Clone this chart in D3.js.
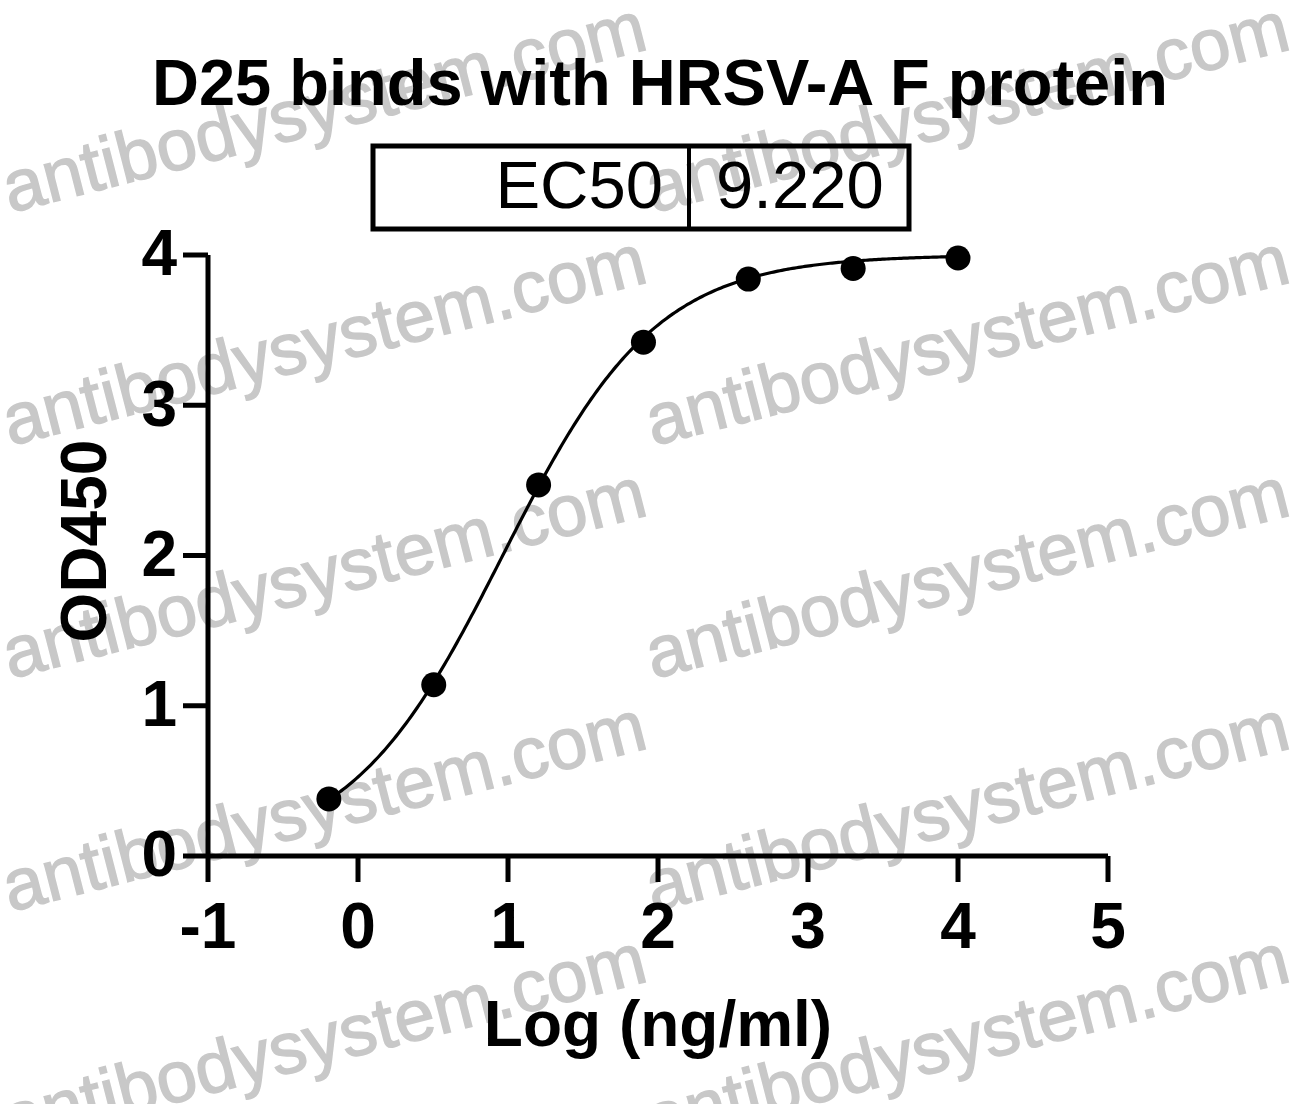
<!DOCTYPE html>
<html><head><meta charset="utf-8">
<script src="https://cdn.jsdelivr.net/npm/d3@7"></script>
<style>body{margin:0;background:#fff}svg{display:block}</style>
</head><body><svg id="c" width="1301" height="1104"></svg>
<script>
// ---- data ----
const logConc = [-0.194, 0.505, 1.204, 1.903, 2.602, 3.301, 4.0];
const od450   = [0.38, 1.14, 2.47, 3.42, 3.84, 3.91, 3.98];
const xTicks = [-1, 0, 1, 2, 3, 4, 5];
const yTicks = [0, 1, 2, 3, 4];
// four-parameter logistic fit shown as the curve
const fitBottom = 0.0, fitTop = 4.0, fitEC50 = 9.220, fitHill = 0.85;
const tableLabels = ["EC50"];
const tableValues = ["9.220"];
const titleText = "D25 binds with HRSV-A F protein";
const xLabelText = "Log (ng/ml)";
const yLabelText = "OD450";
const watermarkText = "antibodysystem.com";
const watermarkCols = [10, 653];
const watermarkRows = [213, 446, 679, 912, 1145];

// ---- drawing ----
const FONT = "'Liberation Sans', Arial, Helvetica, sans-serif";
const svg = d3.select("#c");
svg.append("rect").attr("width", 1301).attr("height", 1104).attr("fill", "#fff");

// watermark layer (behind)
const wm = svg.append("g");
watermarkRows.forEach(yy => watermarkCols.forEach(xx => {
  wm.append("text").attr("transform", `translate(${xx},${yy}) rotate(-14.4)`)
    .attr("font-family", FONT).attr("font-size", 72.5).attr("fill", "#c8c8c8")
    .attr("stroke", "#c8c8c8").attr("stroke-width", 1.4)
    .text(watermarkText);
}));

const x = d3.scaleLinear().domain([-1, 5]).range([208, 1108]);
const y = d3.scaleLinear().domain([0, 4]).range([856, 255]);

const fmt = d => String(d);
const xAxis = d3.axisBottom(x).tickValues(xTicks).tickFormat(fmt)
  .tickSize(26).tickSizeOuter(0).tickPadding(21).offset(0);
const yAxis = d3.axisLeft(y).tickValues(yTicks).tickFormat(fmt)
  .tickSize(25).tickSizeOuter(0).tickPadding(6).offset(0);

function styleAxis(g) {
  g.select(".domain").attr("stroke", "#000").attr("stroke-width", 5);
  g.selectAll(".tick line").attr("stroke", "#000").attr("stroke-width", 5);
  g.selectAll(".tick text").attr("fill", "#000").attr("font-family", FONT)
    .attr("font-size", 64).attr("font-weight", "bold");
}
svg.append("g").attr("transform", "translate(0,856)").call(xAxis).call(styleAxis);
svg.append("g").attr("transform", "translate(208,0)").call(yAxis).call(styleAxis);

// fitted curve
const f = v => fitBottom + (fitTop - fitBottom) / (1 + Math.pow(10, (Math.log10(fitEC50) - v) * fitHill));
const x0 = d3.min(logConc), x1 = d3.max(logConc);
const curvePts = d3.range(0, 301).map(i => { const v = x0 + (x1 - x0) * i / 300; return [v, f(v)]; });
svg.append("path").datum(curvePts)
  .attr("d", d3.line().x(d => x(d[0])).y(d => y(d[1])))
  .attr("fill", "none").attr("stroke", "#000").attr("stroke-width", 3.2);

// points
svg.append("g").selectAll("circle").data(logConc.map((v, i) => [v, od450[i]]))
  .join("circle").attr("cx", d => x(d[0])).attr("cy", d => y(d[1])).attr("r", 12.5).attr("fill", "#000");

// title
svg.append("text").attr("x", 660).attr("y", 105).attr("text-anchor", "middle")
  .attr("font-family", FONT).attr("font-size", 65).attr("font-weight", "bold").text(titleText);

// EC50 table
const tb = svg.append("g");
tb.append("rect").attr("x", 373).attr("y", 146).attr("width", 536).attr("height", 83)
  .attr("fill", "none").attr("stroke", "#000").attr("stroke-width", 5);
tb.append("line").attr("x1", 689).attr("x2", 689).attr("y1", 146).attr("y2", 229)
  .attr("stroke", "#000").attr("stroke-width", 4);
tb.append("text").attr("x", 663).attr("y", 208).attr("text-anchor", "end")
  .attr("font-family", FONT).attr("font-size", 67).text(tableLabels[0]);
tb.append("text").attr("x", 716).attr("y", 208).attr("text-anchor", "start")
  .attr("font-family", FONT).attr("font-size", 67).text(tableValues[0]);

// axis labels
svg.append("text").attr("x", 658).attr("y", 1046).attr("text-anchor", "middle")
  .attr("font-family", FONT).attr("font-size", 64).attr("font-weight", "bold").text(xLabelText);
svg.append("text").attr("transform", "translate(106,541) rotate(-90)").attr("text-anchor", "middle")
  .attr("font-family", FONT).attr("font-size", 64).attr("font-weight", "bold").text(yLabelText);
</script></body></html>
